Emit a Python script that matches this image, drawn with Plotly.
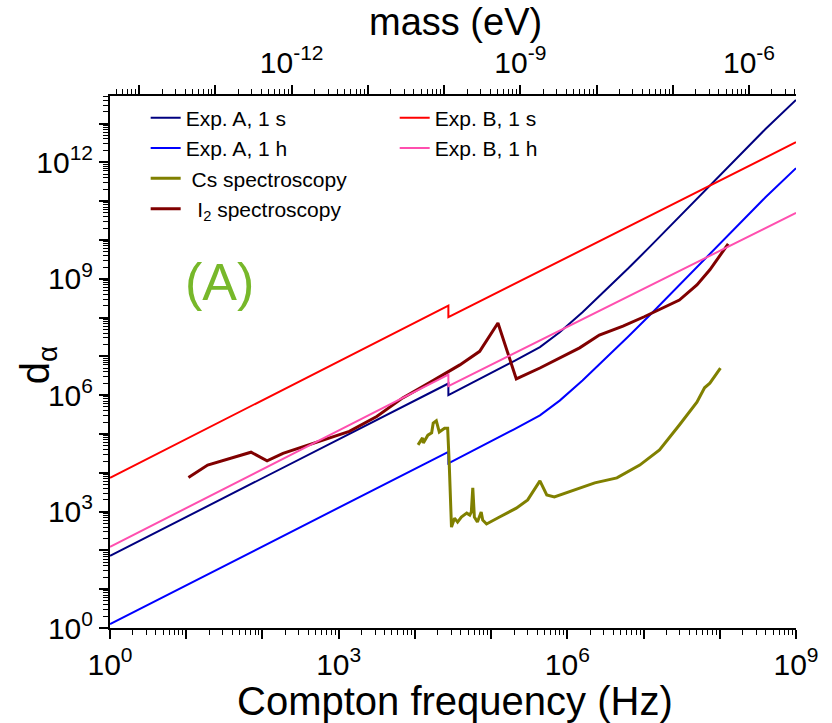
import plotly.graph_objects as go

# ---------------- data ----------------
# Exp. A curves (Compton frequency in Hz, d_alpha)
expA_f = [1.0, 2.75e4, 2.75e4, 1.0e5, 2.0e5, 4.37e5, 7.94e5, 1.58e6, 3.16e6, 6.31e6,
          1.26e7, 2.57e7, 6.03e7, 1.58e8, 3.98e8, 1.0e9]
expA_1s_d = [72.4, 2.0e6, 1.0e6, 3.63e6, 7.59e6, 1.74e7, 4.17e7, 1.38e8, 5.01e8, 1.86e9,
             7.24e9, 3.02e10, 1.74e11, 1.20e12, 7.24e12, 4.07e13]
expA_1h_d = [1.26, 3.47e4, 1.74e4, 6.31e4, 1.32e5, 3.02e5, 7.24e5, 2.40e6, 8.71e6, 3.24e7,
             1.26e8, 5.25e8, 3.02e9, 2.09e10, 1.26e11, 7.08e11]

# Exp. B curves
expB_f = [1.0, 2.75e4, 2.75e4, 1.0e9]
expB_1s_d = [7.41e3, 2.04e8, 1.02e8, 3.31e12]
expB_1h_d = [123.0, 3.39e6, 1.70e6, 5.01e10]

# Cs spectroscopy
cs_f = [1.10e4, 1.26e4, 1.29e4, 1.48e4, 1.66e4, 1.74e4, 1.91e4, 2.09e4, 2.45e4, 2.69e4,
        2.82e4, 3.02e4, 3.31e4, 3.63e4, 4.07e4, 4.79e4, 5.25e4, 5.50e4, 5.75e4, 6.03e4,
        6.61e4, 7.41e4, 7.76e4, 8.71e4, 1.29e5, 2.14e5, 3.02e5, 4.37e5, 5.37e5, 6.76e5,
        2.29e6, 4.47e6, 8.91e6, 1.62e7, 2.95e7, 5.01e7, 6.31e7, 7.41e7, 1.02e8]
cs_d = [5.25e4, 7.94e4, 5.89e4, 9.33e4, 1.07e5, 1.91e5, 2.19e5, 1.12e5, 1.41e5, 1.41e5,
        1.78e4, 398, 676, 537, 724, 912, 813, 977, 4.07e3, 724,
        537, 977, 603, 479, 724, 1.23e3, 2.0e3, 6.17e3, 2.69e3, 2.40e3,
        5.50e3, 7.41e3, 1.58e4, 3.89e4, 1.70e5, 6.61e5, 1.55e6, 2.04e6, 5.01e6]

# I2 spectroscopy
i2_f = [10.7, 19.1, 70.8, 115, 186, 692, 1380, 3160, 6920, 1.58e4,
        3.89e4, 7.08e4, 1.23e5, 2.14e5, 4.37e5, 1.45e6, 2.63e6, 5.37e6, 1.02e7, 2.95e7,
        5.01e7, 7.41e7, 1.29e8]
i2_d = [7.59e3, 1.58e4, 3.39e4, 2.04e4, 3.16e4, 7.59e4, 1.17e5, 2.82e5, 8.51e5, 2.14e6,
        6.03e6, 1.35e7, 7.24e7, 2.63e6, 5.01e6, 1.66e7, 3.55e7, 6.03e7, 1.05e8, 2.82e8,
        6.92e8, 1.70e9, 7.94e9]

# axis ticks
x_major = [10 ** k for k in range(0, 10)]
x_labels = ["10<sup>0</sup>", "", "", "10<sup>3</sup>", "", "", "10<sup>6</sup>", "", "", "10<sup>9</sup>"]
y_major = [10 ** k for k in range(0, 14)]
y_labels = ["10<sup>0</sup>", "", "", "10<sup>3</sup>", "", "", "10<sup>6</sup>", "", "",
            "10<sup>9</sup>", "", "", "10<sup>12</sup>", ""]
m_major = [10.0 ** k for k in range(-14, -5)]
m_labels = ["", "", "10<sup>-12</sup>", "", "", "10<sup>-9</sup>", "", "", "10<sup>-6</sup>"]

x_minor = [m * 10 ** k for k in range(0, 9) for m in range(2, 10)]
y_minor = [m * 10 ** k for k in range(0, 14) for m in range(2, 10)]
m_minor = [m * 10.0 ** k for k in range(-15, -5) for m in range(2, 10)]

H_EV = 4.1357e-15  # eV per Hz (mass = h * f)

FONT = "Liberation Sans, Arial, sans-serif"

fig = go.Figure()

def add(x, y, name, color, width, legend="legend"):
    fig.add_trace(go.Scatter(x=x, y=y, mode="lines", name=name,
                             line=dict(color=color, width=width),
                             legend=legend))

add(expA_f, expA_1s_d, "Exp. A, 1 s", "#000080", 2)
add(expA_f, expA_1h_d, "Exp. A, 1 h", "#0000FF", 2)
add(cs_f, cs_d, " Cs spectroscopy", "#808000", 3)
add(i2_f, i2_d, "  I<sub>2</sub> spectroscopy", "#800000", 3)
add(expB_f, expB_1s_d, "Exp. B, 1 s", "#FF0000", 2, "legend2")
add(expB_f, expB_1h_d, "Exp. B, 1 h", "#FF4FAF", 2, "legend2")

# invisible copy of Exp. B on the mass axis so that the top axis is drawn
fig.add_trace(go.Scatter(x=[f * H_EV for f in expB_f], y=expB_1s_d, mode="lines",
                         xaxis="x2", yaxis="y", opacity=0, showlegend=False,
                         hoverinfo="skip", line=dict(color="white", width=0.1)))

axis_common = dict(showline=True, linecolor="black", linewidth=2, showgrid=False,
                   zeroline=False, ticks="outside", ticklen=9, tickwidth=1.5,
                   tickcolor="black", tickfont=dict(size=30, family=FONT, color="black"))

fig.update_layout(
    width=832, height=723,
    margin=dict(l=110, r=36, t=96, b=95, pad=0),
    paper_bgcolor="white", plot_bgcolor="white",
    font=dict(family=FONT, color="black"),
    xaxis=dict(type="log", range=[0, 9], tickmode="array", tickvals=x_major,
               ticktext=x_labels, automargin=False,
               minor=dict(tickmode="array", tickvals=x_minor, ticks="outside",
                          ticklen=5, tickwidth=1, tickcolor="black"),
               **axis_common),
    xaxis2=dict(type="log", overlaying="x", side="top", anchor="y",
                range=[-14.3834, -5.3834], tickmode="array", tickvals=m_major,
                ticktext=m_labels, automargin=False,
                minor=dict(tickmode="array", tickvals=m_minor, ticks="outside",
                           ticklen=5, tickwidth=1, tickcolor="black"),
                **axis_common),
    yaxis=dict(type="log", range=[0, 13.71], tickmode="array", tickvals=y_major,
               ticktext=y_labels, automargin=False,
               minor=dict(tickmode="array", tickvals=y_minor, ticks="outside",
                          ticklen=5, tickwidth=1, tickcolor="black"),
               **axis_common),
    yaxis2=dict(type="log", overlaying="y", side="right", anchor="x",
                range=[0, 13.71], tickmode="array", tickvals=y_major,
                ticktext=[""] * len(y_major), automargin=False,
                showline=True, linecolor="black", linewidth=2, showgrid=False,
                zeroline=False, ticks="inside", ticklen=9, tickwidth=1.5, tickcolor="black",
                minor=dict(tickmode="array", tickvals=y_minor, ticks="inside",
                           ticklen=5, tickwidth=1, tickcolor="black")),
    legend=dict(x=0.052, y=0.997, xanchor="left", yanchor="top",
                bgcolor="rgba(0,0,0,0)", font=dict(size=21, family=FONT),
                tracegroupgap=0, itemwidth=30),
    legend2=dict(x=0.415, y=0.997, xanchor="left", yanchor="top",
                 bgcolor="rgba(0,0,0,0)", font=dict(size=21, family=FONT),
                 tracegroupgap=0, itemwidth=30),
    annotations=[
        dict(text="Compton frequency (Hz)", xref="paper", yref="paper", x=0.503, y=-0.137,
             showarrow=False, font=dict(size=40, family=FONT), xanchor="center", yanchor="middle"),
        dict(text="mass (eV)", xref="paper", yref="paper", x=0.503, y=1.139,
             showarrow=False, font=dict(size=38, family=FONT), xanchor="center", yanchor="middle"),
        dict(text="d<sub>α</sub>", xref="paper", yref="paper", x=-0.105, y=0.494,
             showarrow=False, textangle=-90, font=dict(size=40, family=FONT),
             xanchor="center", yanchor="middle"),
        dict(text="(A)", xref="paper", yref="paper", x=0.160, y=0.650,
             showarrow=False, font=dict(size=52, family=FONT, color="#77B82A"),
             xanchor="center", yanchor="middle"),
    ],
)

fig.write_html("out.html")
